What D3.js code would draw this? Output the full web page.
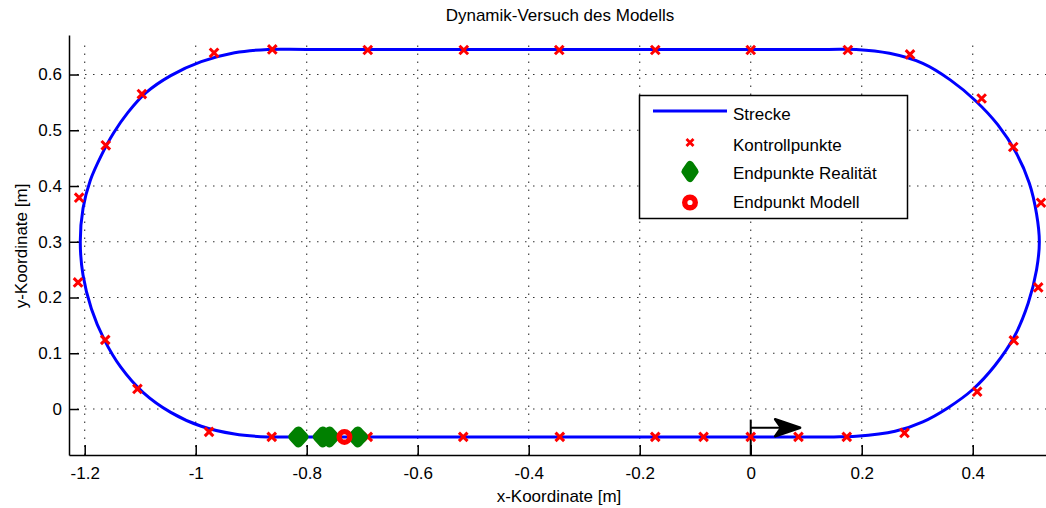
<!DOCTYPE html>
<html><head><meta charset="utf-8">
<script src="https://cdn.jsdelivr.net/npm/d3@7"></script>
<style>
body{margin:0;background:#fff;}
text{font-family:"Liberation Sans",Arial,sans-serif;fill:#000;}
</style></head>
<body><svg id="c" width="1046" height="508"></svg>
<script>
const xTicks = [-1.2,-1,-0.8,-0.6,-0.4,-0.2,0,0.2,0.4];
const yTicks = [0,0.1,0.2,0.3,0.4,0.5,0.6];
const track = [[0,-0.05],[0.1,-0.05],[0.15,-0.05],[0.19,-0.049],[0.26,-0.040],[0.31,-0.023],[0.355,0.002],[0.40,0.035],[0.44,0.078],[0.475,0.13],[0.50,0.19],[0.515,0.25],[0.52,0.30],[0.515,0.35],[0.502,0.405],[0.478,0.46],[0.445,0.51],[0.405,0.553],[0.36,0.59],[0.31,0.62],[0.25,0.638],[0.19,0.645],[0.14,0.645],[0.0,0.645],[-0.4,0.645],[-0.8,0.645],[-0.87,0.645],[-0.93,0.639],[-0.99,0.623],[-1.045,0.598],[-1.09,0.567],[-1.122,0.532],[-1.148,0.495],[-1.17,0.455],[-1.19,0.41],[-1.203,0.36],[-1.208,0.30],[-1.203,0.24],[-1.188,0.18],[-1.165,0.125],[-1.135,0.075],[-1.095,0.03],[-1.045,-0.006],[-0.99,-0.031],[-0.93,-0.045],[-0.87,-0.05],[-0.82,-0.05],[-0.5,-0.05]];
const ctrlX = [-0.967,-0.862,-0.690,-0.517,-0.345,-0.172,0.0,0.175,0.287, 0.416,0.473,0.523,0.518,0.474,0.408,0.277, 0.173,0.086,0.0,-0.085,-0.172,-0.344,-0.518,-0.690,-0.863,-0.976, -1.105,-1.163,-1.212,-1.210,-1.162,-1.097];
const ctrlY = [0.639,0.645,0.644,0.644,0.644,0.644,0.644,0.644,0.636, 0.557,0.470,0.370,0.218,0.123,0.031,-0.043, -0.05,-0.05,-0.05,-0.05,-0.05,-0.05,-0.05,-0.05,-0.05,-0.041, 0.036,0.124,0.227,0.379,0.473,0.565];
const realX = [-0.815,-0.771,-0.759,-0.708];
const realY = [-0.05,-0.05,-0.05,-0.05];
const modelX = [-0.732];
const modelY = [-0.05];
const arrowStart = [0,-0.0336], arrowEnd = [0.089,-0.0336];
const startLine = [[0,-0.019],[0,-0.082]];
const legendLabels = ["Strecke","Kontrollpunkte","Endpunkte Realität","Endpunkt Modell"];

const svg = d3.select("#c");
const x = d3.scaleLinear().domain([-1.2283,0.532]).range([69,1046]);
const y = d3.scaleLinear().domain([-0.0825,0.6709]).range([455,35]);
const FS = "17px";

// grid
const grid = svg.append("g").attr("stroke","#333").attr("stroke-width",1.1).attr("stroke-dasharray","1.5,6.5");
grid.selectAll(".gx").data(xTicks).join("line")
  .attr("x1",d=>x(d)).attr("x2",d=>x(d)).attr("y1",y.range()[0]).attr("y2",42);
grid.selectAll(".gy").data(yTicks).join("line")
  .attr("y1",d=>y(d)).attr("y2",d=>y(d)).attr("x1",x.range()[0]+8).attr("x2",1046);

// axes
const gxA = svg.append("g").attr("transform",`translate(0,${y.range()[0]})`)
  .call(d3.axisBottom(x).tickValues(xTicks).tickSizeInner(-10).tickSizeOuter(0).tickPadding(12).tickFormat(d=>String(d)));
const gyA = svg.append("g").attr("transform",`translate(${x.range()[0]},0)`)
  .call(d3.axisLeft(y).tickValues(yTicks).tickSizeInner(-10).tickSizeOuter(0).tickPadding(7).tickFormat(d=>String(d)));
[gxA,gyA].forEach(g=>{
  g.select(".domain").attr("stroke","#000").attr("stroke-width",1.5);
  g.selectAll(".tick line").attr("stroke","#000").attr("stroke-width",1.5);
  g.selectAll(".tick text").style("font-size",FS).style("font-family","Liberation Sans, Arial, sans-serif");
});

// track
svg.append("path").datum(track)
  .attr("d",d3.line().x(d=>x(d[0])).y(d=>y(d[1])).curve(d3.curveCatmullRomClosed.alpha(0.5)))
  .attr("fill","none").attr("stroke","#0000ff").attr("stroke-width",3);

// arrow
svg.append("line").attr("x1",x(startLine[0][0])).attr("x2",x(startLine[1][0]))
  .attr("y1",y(startLine[0][1])).attr("y2",y(startLine[1][1])).attr("stroke","#000").attr("stroke-width",2);
const ax0=x(arrowStart[0]), ay=y(arrowStart[1]), ax1=x(arrowEnd[0]);
svg.append("line").attr("x1",ax0).attr("x2",ax1-10).attr("y1",ay).attr("y2",ay).attr("stroke","#000").attr("stroke-width",2);
svg.append("path").attr("d",`M${ax1},${ay} L${ax1-25},${ay-8.5} L${ax1-19},${ay} L${ax1-25},${ay+8.5} Z`).attr("fill","#000").attr("stroke","#000").attr("stroke-width",2.5).attr("stroke-linejoin","round");

// control points
const xMark = (s)=>`M${-s},${-s}L${s},${s}M${-s},${s}L${s},${-s}`;
svg.append("g").selectAll("path").data(ctrlX.map((v,i)=>[v,ctrlY[i]])).join("path")
  .attr("transform",d=>`translate(${x(d[0])},${y(d[1])})`).attr("d",xMark(4.3))
  .attr("stroke","#ff0000").attr("stroke-width",3).attr("fill","none");

// real endpoints
const diamond = (w,h)=>`M0,${-h}L${w},0L0,${h}L${-w},0Z`;
svg.append("g").selectAll("path").data(realX.map((v,i)=>[v,realY[i]])).join("path")
  .attr("transform",d=>`translate(${x(d[0])},${y(d[1])})`).attr("d",diamond(5.5,6))
  .attr("fill","#008000").attr("stroke","#008000").attr("stroke-width",9).attr("stroke-linejoin","round");

// model endpoint
svg.append("g").selectAll("circle").data(modelX.map((v,i)=>[v,modelY[i]])).join("circle")
  .attr("cx",d=>x(d[0])).attr("cy",d=>y(d[1])).attr("r",5.3)
  .attr("fill","none").attr("stroke","#ff0000").attr("stroke-width",5.4);

// legend
const lg = svg.append("g");
lg.append("rect").attr("x",639.5).attr("y",95.5).attr("width",268).attr("height",123).attr("fill","#fff").attr("stroke","#000").attr("stroke-width",1.5);
const rowY = [114,145,173,202];
lg.selectAll("text").data(legendLabels).join("text").attr("x",733).attr("y",(d,i)=>rowY[i]+6).style("font-size",FS).text(d=>d);
lg.append("line").attr("x1",653).attr("x2",727).attr("y1",111).attr("y2",111).attr("stroke","#0000ff").attr("stroke-width",3);
lg.append("path").attr("transform",`translate(690,142.5)`).attr("d",xMark(3.5)).attr("stroke","#ff0000").attr("stroke-width",2.8);
lg.append("path").attr("transform",`translate(690,171.5)`).attr("d",diamond(4.5,6.5)).attr("fill","#008000").attr("stroke","#008000").attr("stroke-width",8).attr("stroke-linejoin","round");
lg.append("circle").attr("cx",690).attr("cy",202.5).attr("r",5.3).attr("fill","#fff").attr("stroke","#ff0000").attr("stroke-width",5.4);

// titles
svg.append("text").attr("x",560).attr("y",21).attr("text-anchor","middle").style("font-size",FS).text("Dynamik-Versuch des Modells");
svg.append("text").attr("x",559).attr("y",502).attr("text-anchor","middle").style("font-size",FS).text("x-Koordinate [m]");
svg.append("text").attr("transform","translate(27,246) rotate(-90)").attr("text-anchor","middle").style("font-size",FS).text("y-Koordinate [m]");
</script></body></html>
